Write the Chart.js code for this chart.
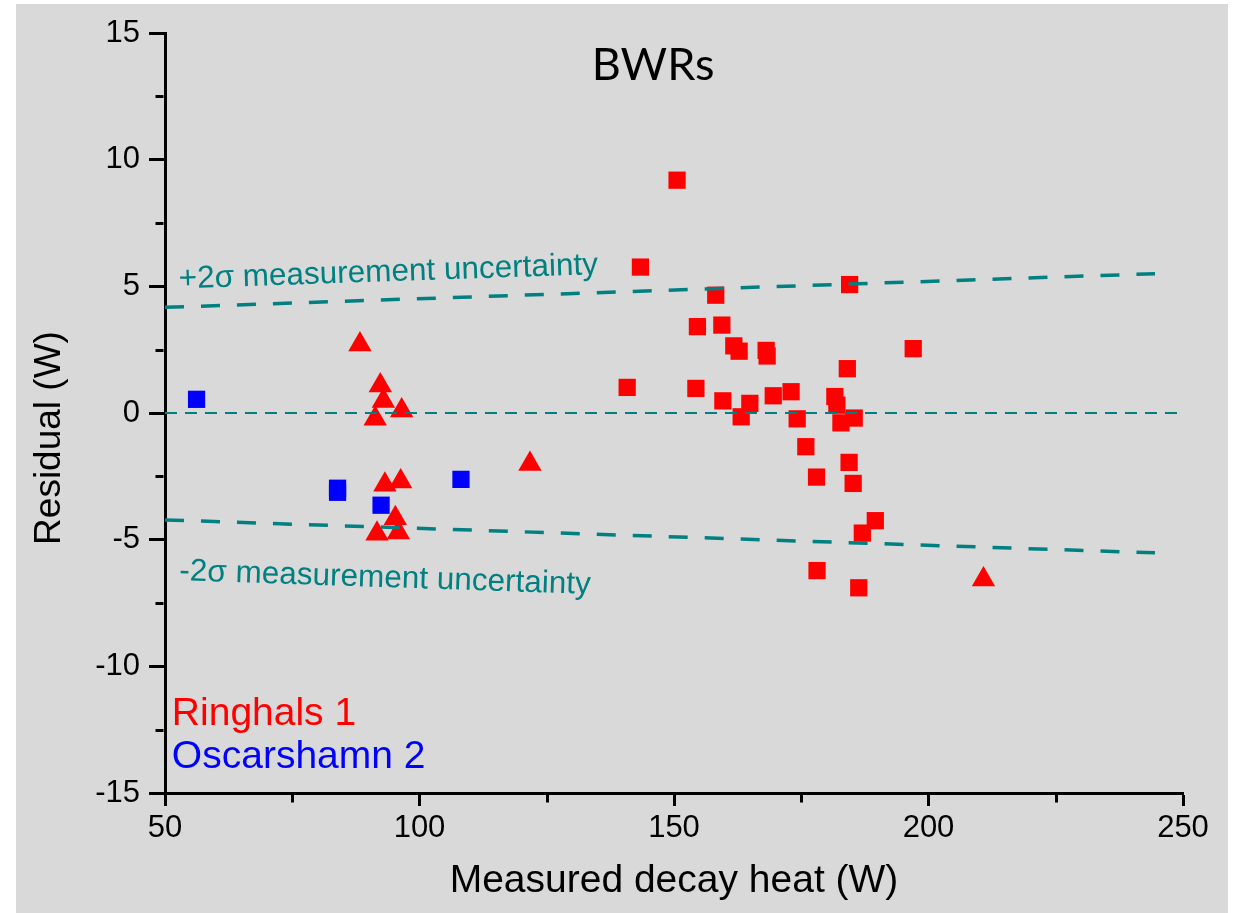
<!DOCTYPE html>
<html>
<head>
<meta charset="utf-8">
<script src="https://cdn.jsdelivr.net/npm/chart.js@4.4.1/dist/chart.umd.min.js"></script>
<style>
html,body{margin:0;padding:0;background:#fff;}
canvas{display:block;}
</style>
</head>
<body>
<canvas id="c" width="1238" height="913"></canvas>
<script>
// ---- Data ----
const ringhalsSqX = [150.6,143.4,158.2,184.5,154.6,159.4,161.75,162.8,168.1,168.3,197.0,184.05,140.8,154.3,159.6,164.9,169.5,173.0,181.6,182.0,163.2,174.2,182.8,185.4,175.9,184.4,178.0,185.2,189.55,187.0,178.1,186.3];
const ringhalsSqY = [9.19,5.76,4.65,5.07,3.41,3.47,2.65,2.44,2.47,2.25,2.54,1.75,1.01,0.97,0.48,0.38,0.68,0.84,0.65,0.31,-0.15,-0.23,-0.39,-0.20,-1.33,-1.95,-2.53,-2.78,-4.25,-4.74,-6.22,-6.90];
const ringhalsTriX = [88.3,92.3,92.9,96.5,91.3,93.2,96.3,95.25,91.65,95.85,121.7,210.8];
const ringhalsTriY = [2.70,1.09,0.47,0.10,-0.23,-2.83,-2.70,-4.15,-4.77,-4.72,-2.01,-6.57];
const oscarshamnX = [56.2,83.9,83.9,92.45,108.15];
const oscarshamnY = [0.54,-2.97,-3.13,-3.64,-2.62];

const upperX = [50, 244.5];
const upperY = [4.17, 5.50];
const lowerX = [50, 244.5];
const lowerY = [-4.22, -5.52];
const zeroX = [50, 250];
const zeroY = [0, 0];

const xTicks = [50, 100, 150, 200, 250];
const yTicks = [-15, -10, -5, 0, 5, 10, 15];
const xMinor = [75, 125, 175, 225];
const yMinor = [-12.5, -7.5, -2.5, 2.5, 7.5, 12.5];

const chartTitle = 'BWRs';
const xTitle = 'Measured decay heat (W)';
const yTitle = 'Residual (W)';
const upperLabel = '+2σ measurement uncertainty';
const lowerLabel = '-2σ measurement uncertainty';
const seriesNames = ['Ringhals 1', 'Oscarshamn 2'];

// text anchors in data units
const upperLabelPos = {x: 52.75, y: 4.92};
const lowerLabelPos = {x: 52.75, y: -6.6};
const titlePos = {x: 145.9, y: 13.13};
const legendPos = [{x: 51.35, y: -12.33}, {x: 51.35, y: -14.03}];

const TEAL = '#008080';
const RED = '#ff0000';
const BLUE = '#0000ff';
const FONT = "'Liberation Sans', Arial, sans-serif";

const pts = (xs, ys) => xs.map((x, i) => ({x: x, y: ys[i]}));

const bgPlugin = {
  id: 'bg',
  beforeDraw(chart) {
    const ctx = chart.ctx;
    ctx.save();
    ctx.fillStyle = '#ffffff';
    ctx.fillRect(0, 0, chart.width, chart.height);
    ctx.fillStyle = '#d9d9d9';
    ctx.fillRect(16, 4, 1212, 909);
    ctx.restore();
  }
};

const extrasPlugin = {
  id: 'extras',
  afterDraw(chart) {
    const ctx = chart.ctx;
    const xs = chart.scales.x, ys = chart.scales.y;
    const ca = chart.chartArea;
    ctx.save();
    // minor ticks
    ctx.strokeStyle = '#000';
    ctx.lineWidth = 3;
    ctx.beginPath();
    xMinor.forEach(v => {
      const p = Math.round(xs.getPixelForValue(v)) + 0.5;
      ctx.moveTo(p, ca.bottom + 1.5);
      ctx.lineTo(p, ca.bottom + 1.5 + 8);
    });
    yMinor.forEach(v => {
      const p = Math.round(ys.getPixelForValue(v)) + 0.5;
      ctx.moveTo(ca.left - 1.5, p);
      ctx.lineTo(ca.left - 1.5 - 8, p);
    });
    ctx.stroke();

    // chart title
    ctx.fillStyle = '#000';
    ctx.font = "45px Lato, 'Liberation Sans', sans-serif";
    ctx.textAlign = 'center';
    ctx.textBaseline = 'alphabetic';
    ctx.fillText(chartTitle, xs.getPixelForValue(titlePos.x), ys.getPixelForValue(titlePos.y));

    // uncertainty labels, rotated along their lines
    const drawAlong = (txt, pos, lx, ly) => {
      const a = Math.atan2(ys.getPixelForValue(ly[1]) - ys.getPixelForValue(ly[0]),
                           xs.getPixelForValue(lx[1]) - xs.getPixelForValue(lx[0]));
      ctx.save();
      ctx.translate(xs.getPixelForValue(pos.x), ys.getPixelForValue(pos.y));
      ctx.rotate(a);
      ctx.fillStyle = TEAL;
      ctx.font = '31.5px ' + FONT;
      ctx.textAlign = 'left';
      ctx.textBaseline = 'alphabetic';
      ctx.fillText(txt, 0, 0);
      ctx.restore();
    };
    drawAlong(upperLabel, upperLabelPos, upperX, upperY);
    drawAlong(lowerLabel, lowerLabelPos, lowerX, lowerY);

    // legend texts
    ctx.font = '39px ' + FONT;
    ctx.textAlign = 'left';
    ctx.textBaseline = 'alphabetic';
    ctx.fillStyle = RED;
    ctx.fillText(seriesNames[0], xs.getPixelForValue(legendPos[0].x), ys.getPixelForValue(legendPos[0].y));
    ctx.fillStyle = BLUE;
    ctx.fillText(seriesNames[1], xs.getPixelForValue(legendPos[1].x), ys.getPixelForValue(legendPos[1].y));

    // y axis title
    ctx.save();
    ctx.translate(ca.left - 115, (ca.top + ca.bottom) / 2 + 25);
    ctx.rotate(-Math.PI / 2);
    ctx.fillStyle = '#000';
    ctx.font = '37px ' + FONT;
    ctx.textAlign = 'center';
    ctx.textBaseline = 'middle';
    ctx.fillText(yTitle, 0, 0);
    ctx.restore();

    ctx.restore();
  }
};

new Chart(document.getElementById('c'), {
  type: 'scatter',
  data: {
    datasets: [
      { label: '+2σ', data: pts(upperX, upperY), showLine: true, borderColor: TEAL, borderWidth: 3.5,
        borderDash: [19, 17], pointRadius: 0, fill: false, order: 0 },
      { label: '-2σ', data: pts(lowerX, lowerY), showLine: true, borderColor: TEAL, borderWidth: 3.5,
        borderDash: [19, 17], pointRadius: 0, fill: false, order: 0 },
      { label: 'zero', data: pts(zeroX, zeroY), showLine: true, borderColor: TEAL, borderWidth: 2,
        borderDash: [12, 8], pointRadius: 0, fill: false, order: 0 },
      { label: seriesNames[0] + ' (squares)', data: pts(ringhalsSqX, ringhalsSqY), pointStyle: 'rect',
        pointRadius: 12.2, backgroundColor: RED, borderColor: RED, borderWidth: 0, order: 1 },
      { label: seriesNames[0] + ' (triangles)', data: pts(ringhalsTriX, ringhalsTriY), pointStyle: 'triangle',
        pointRadius: 13.5, backgroundColor: RED, borderColor: RED, borderWidth: 0, order: 1 },
      { label: seriesNames[1], data: pts(oscarshamnX, oscarshamnY), pointStyle: 'rect',
        pointRadius: 12.2, backgroundColor: BLUE, borderColor: BLUE, borderWidth: 0, order: 1 }
    ]
  },
  options: {
    responsive: false,
    animation: false,
    devicePixelRatio: 1,
    layout: { padding: { left: 0, right: 55, top: 33, bottom: 0 } },
    plugins: { legend: { display: false }, tooltip: { enabled: false } },
    scales: {
      x: {
        type: 'linear', position: 'bottom', min: 50, max: 250,
        afterFit(s) { s.height = 120; },
        afterBuildTicks(s) { s.ticks = xTicks.map(v => ({value: v})); },
        border: { display: true, color: '#000', width: 3 },
        grid: { display: true, drawOnChartArea: false, drawTicks: true, tickLength: 13, tickWidth: 3, tickColor: '#000' },
        ticks: { color: '#000', font: { family: FONT, size: 31 }, padding: 4, maxRotation: 0, callback: v => String(v) },
        title: { display: true, text: xTitle, color: '#000', font: { family: FONT, size: 39 }, padding: { top: 0, bottom: 8 } }
      },
      y: {
        type: 'linear', position: 'left', min: -15, max: 15,
        afterFit(s) { s.width = 165; },
        afterBuildTicks(s) { s.ticks = yTicks.map(v => ({value: v})); },
        border: { display: true, color: '#000', width: 3 },
        grid: { display: true, drawOnChartArea: false, drawTicks: true, tickLength: 16, tickWidth: 3, tickColor: '#000' },
        ticks: { color: '#000', font: { family: FONT, size: 31 }, padding: 9, callback: v => String(v) },
        title: { display: false }
      }
    }
  },
  plugins: [bgPlugin, extrasPlugin]
});
</script>
</body>
</html>
